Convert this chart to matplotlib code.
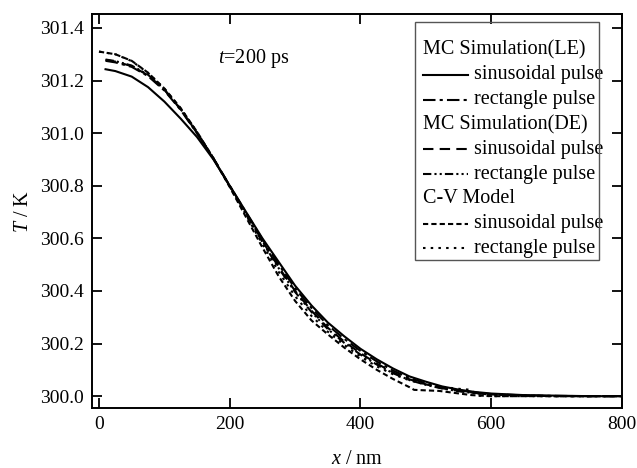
import matplotlib
matplotlib.use("Agg")
import matplotlib.pyplot as plt
from matplotlib.lines import Line2D
from matplotlib.patches import Rectangle
from matplotlib.ticker import FormatStrFormatter

plt.rcParams['font.family'] = ['Liberation Serif', 'DejaVu Serif']
plt.rcParams['mathtext.fontset'] = 'custom'
plt.rcParams['mathtext.it'] = 'Liberation Serif:italic'
plt.rcParams['mathtext.rm'] = 'Liberation Serif'

# ---- data ----
x_mc = [10, 25, 50, 75, 100, 125, 150, 175, 200, 225, 250, 275, 300, 325, 350,
        375, 400, 425, 450, 475, 500, 525, 550, 575, 600, 650, 700, 750, 800]
le_sin = [301.243, 301.236, 301.215, 301.175, 301.120, 301.055, 300.985, 300.900,
          300.800, 300.700, 300.600, 300.510, 300.420, 300.345, 300.280, 300.228,
          300.180, 300.140, 300.105, 300.075, 300.055, 300.037, 300.025, 300.016,
          300.010, 300.004, 300.002, 300.000, 300.000]
le_rect = [301.275, 301.269, 301.252, 301.217, 301.162, 301.088, 300.999, 300.903,
           300.800, 300.698, 300.596, 300.500, 300.410, 300.335, 300.270, 300.218,
           300.172, 300.132, 300.097, 300.069, 300.049, 300.033, 300.022, 300.014,
           300.008, 300.003, 300.001, 300.000, 300.000]
de_sin = [301.278, 301.272, 301.255, 301.220, 301.165, 301.090, 301.000, 300.905,
          300.800, 300.695, 300.590, 300.490, 300.400, 300.325, 300.260, 300.208,
          300.163, 300.124, 300.090, 300.064, 300.045, 300.030, 300.020, 300.012,
          300.007, 300.002, 300.000, 300.000, 300.000]
de_rect = [301.280, 301.274, 301.257, 301.222, 301.166, 301.091, 301.001, 300.904,
           300.798, 300.692, 300.586, 300.486, 300.396, 300.320, 300.255, 300.203,
           300.158, 300.120, 300.087, 300.061, 300.043, 300.029, 300.019, 300.011,
           300.006, 300.002, 300.000, 300.000, 300.000]

x_cv_sin = [0, 25, 50, 75, 100, 125, 150, 175, 200, 225, 250, 275, 300, 325, 350,
            375, 400, 425, 450, 475, 482, 500, 520, 545, 570, 600, 650, 700, 800]
cv_sin = [301.310, 301.300, 301.275, 301.230, 301.170, 301.095, 301.005, 300.905,
          300.795, 300.680, 300.565, 300.455, 300.362, 300.288, 300.235, 300.185,
          300.140, 300.100, 300.065, 300.034, 300.024, 300.022, 300.020, 300.012,
          300.004, 300.000, 300.000, 300.000, 300.000]
x_cv_rect = [0, 25, 50, 75, 100, 125, 150, 175, 200, 225, 250, 275, 300, 325, 350,
             375, 400, 425, 450, 475, 500, 525, 550, 570, 578, 600, 650, 700, 800]
cv_rect = [301.310, 301.300, 301.274, 301.229, 301.169, 301.094, 301.004, 300.904,
           300.797, 300.688, 300.578, 300.472, 300.380, 300.305, 300.245, 300.195,
           300.150, 300.113, 300.083, 300.060, 300.045, 300.035, 300.028, 300.024,
           300.002, 300.000, 300.000, 300.000, 300.000]

W, H = 637.0, 468.0
def fx(p):
    return p / W
def fy(p):
    return 1 - p / H

fig = plt.figure(figsize=(6.37, 4.68), dpi=100)
ax = fig.add_axes([fx(92), fy(408), fx(622) - fx(92), fy(14) - fy(408)])

lw = 1.5
ax.plot(x_mc, le_sin, color='black', lw=lw, ls='-')
ax.plot(x_mc, le_rect, color='black', lw=lw, ls=(0, (6, 2, 1.5, 2)))
ax.plot(x_mc, de_sin, color='black', lw=lw, ls=(0, (5, 3)))
ax.plot(x_mc, de_rect, color='black', lw=lw, ls=(0, (4, 1.5, 1, 1.5, 1, 1.5)))
ax.plot(x_cv_sin, cv_sin, color='black', lw=lw, ls=(0, (2.5, 1.5)))
ax.plot(x_cv_rect, cv_rect, color='black', lw=lw, ls=(0, (1.2, 2.5)))

ax.set_xlim(-10.7, 800)
ax.set_ylim(299.955, 301.453)
ax.set_xticks([0, 200, 400, 600, 800])
ax.set_yticks([300.0, 300.2, 300.4, 300.6, 300.8, 301.0, 301.2, 301.4])
ax.yaxis.set_major_formatter(FormatStrFormatter('%.1f'))
ax.tick_params(direction='in', length=7, width=1.3, labelsize=14,
               top=True, right=True, pad=6)
for s in ax.spines.values():
    s.set_linewidth(1.4)

ax.set_xlabel('$x$ / nm', fontsize=14.5, labelpad=12)
ax.set_ylabel('$T$ / K', fontsize=14.5, labelpad=5)
fig.text(fx(218), fy(58), '$t$=200 ps', fontsize=14.5, va='center', ha='left')

# ---- manual legend (figure pixel coordinates) ----
fig.patches.append(Rectangle((fx(415), fy(260)), fx(599) - fx(415), fy(22) - fy(260),
                             transform=fig.transFigure, fill=False, lw=1.0,
                             edgecolor='#555555', zorder=5))
rows = [
    ('MC Simulation(LE)', None),
    ('sinusoidal pulse', '-'),
    ('rectangle pulse', (0, (6, 2, 1.5, 2))),
    ('MC Simulation(DE)', None),
    ('sinusoidal pulse', (0, (5, 3))),
    ('rectangle pulse', (0, (4, 1.5, 1, 1.5, 1, 1.5))),
    ('C-V Model', None),
    ('sinusoidal pulse', (0, (2.5, 1.5))),
    ('rectangle pulse', (0, (1.2, 2.5))),
]
y0, dy = 50.0, 24.8
for i, (lab, style) in enumerate(rows):
    yc = y0 + i * dy
    if style is None:
        fig.text(fx(423), fy(yc), lab, fontsize=14.5, va='center', ha='left')
    else:
        fig.lines.append(Line2D([fx(423), fx(468)], [fy(yc), fy(yc)], color='black',
                                lw=lw, ls=style, transform=fig.transFigure))
        fig.text(fx(474), fy(yc), lab, fontsize=14.5, va='center', ha='left')

fig.savefig('out.png', dpi=100)
